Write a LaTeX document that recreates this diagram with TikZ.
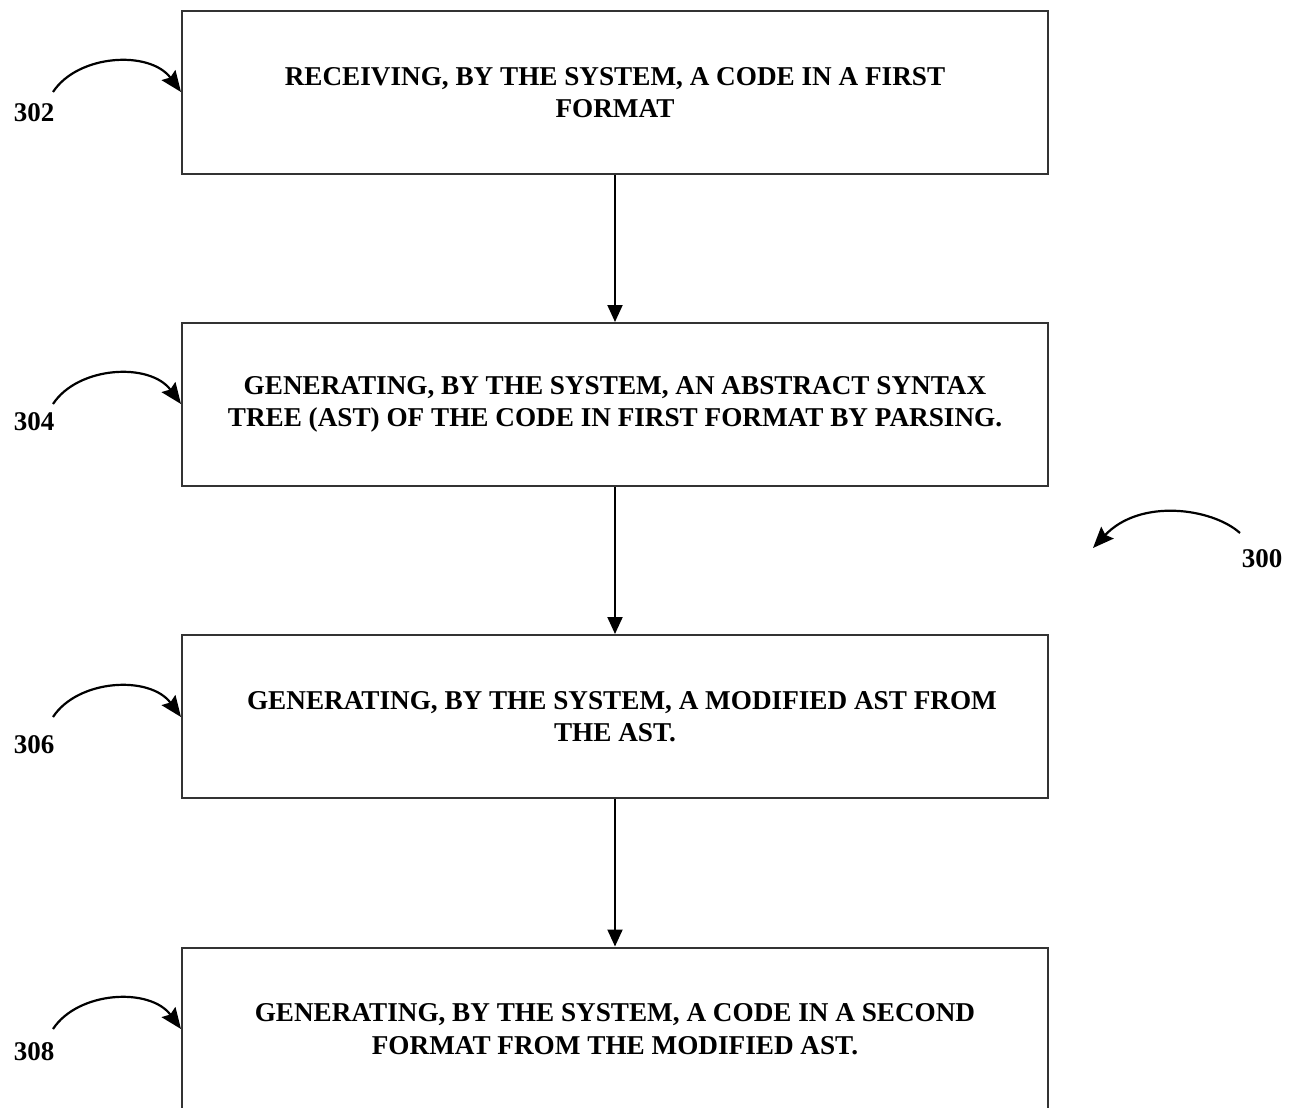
\documentclass[tikz,border=0pt]{standalone}
\usepackage{fontspec}
\setmainfont{Liberation Serif}
\usetikzlibrary{arrows.meta}
\begin{document}
\begin{tikzpicture}[x=1pt,y=-1pt,
  stepbox/.style={draw=black!80, line width=2pt, rectangle, minimum width=866pt, minimum height=163pt, align=center, inner sep=0pt, font=\fontsize{27.2}{32.5}\selectfont\bfseries},
  flow/.style={line width=2pt, -{Triangle[length=17pt,width=15pt]}},
  refarrow/.style={line width=2.2pt, -{Stealth[length=21pt,width=17pt,inset=3pt]}},
  reflabel/.style={font=\fontsize{27}{32}\selectfont\bfseries, inner sep=0pt}]
\useasboundingbox (0,0) rectangle (1296,1108);
\clip (0,0) rectangle (1296,1108);
\node[stepbox] (s1) at (615,92.5) {RECEIVING, BY THE SYSTEM, A CODE IN A FIRST\\FORMAT};
\node[stepbox] (s2) at (615,404.5) {GENERATING, BY THE SYSTEM, AN ABSTRACT SYNTAX\\TREE (AST) OF THE CODE IN FIRST FORMAT BY PARSING.};
\node[stepbox] (s3) at (615,716.5) {\hspace*{14pt}GENERATING, BY THE SYSTEM, A MODIFIED AST FROM\\THE AST.};
\node[stepbox] (s4) at (615,1029) {GENERATING, BY THE SYSTEM, A CODE IN A SECOND\\FORMAT FROM THE MODIFIED AST.};
\draw[flow] (s1.south) -- (s2.north);
\draw[flow] (s2.south) -- (s3.north);
\draw[flow] (s3.south) -- (s4.north);
% reference labels
\node[reflabel] (l302) at (34,113) {302};
\node[reflabel] (l304) at (34,422) {304};
\node[reflabel] (l306) at (34,745) {306};
\node[reflabel] (l308) at (34,1052) {308};
\node[reflabel] (l300) at (1262,559) {300};
\coordinate (a302) at (53,92);
\coordinate (a304) at (53,404);
\coordinate (a306) at (53,717);
\coordinate (a308) at (53,1029);
\draw[refarrow] (a302) .. controls (78,54) and (150,50) .. (s1.west |- a302);
\draw[refarrow] (a304) .. controls (78,366) and (150,362) .. (s2.west |- a304);
\draw[refarrow] (a306) .. controls (78,679) and (150,675) .. (s3.west |- a306);
\draw[refarrow] (a308) .. controls (78,991) and (150,987) .. (s4.west |- a308);
\coordinate (a300s) at (1240,533);
\coordinate (a300e) at (1093,548);
\draw[refarrow] (a300s) .. controls (1212,508) and (1140,498) .. (a300e);
\end{tikzpicture}
\end{document}
